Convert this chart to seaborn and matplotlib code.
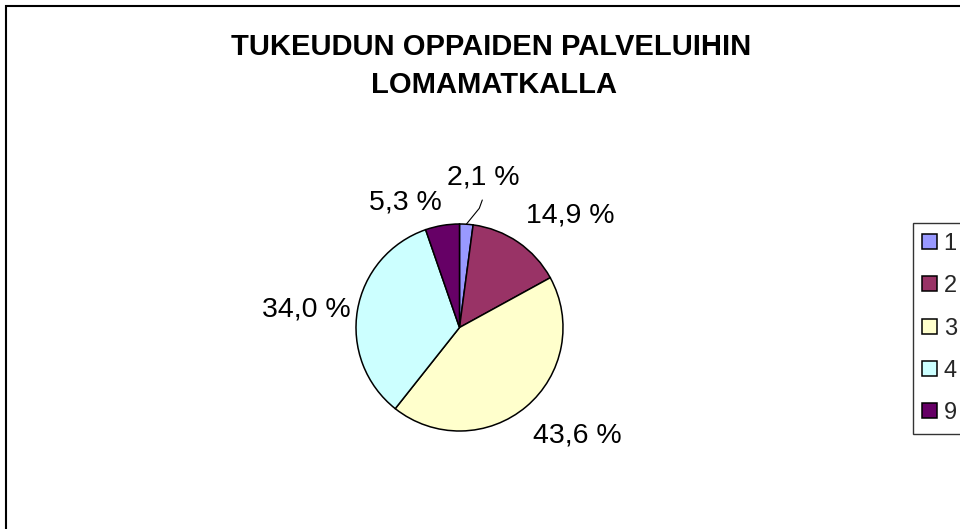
import numpy as np
import matplotlib
matplotlib.use("Agg")
import matplotlib.pyplot as plt
import seaborn as sns

# data
categories = ["1", "2", "3", "4", "9"]
shares = [2.1, 14.9, 43.6, 34.0, 5.3]
pct_labels = ["2,1 %", "14,9 %", "43,6 %", "34,0 %", "5,3 %"]
title_lines = ["TUKEUDUN OPPAIDEN PALVELUIHIN", "LOMAMATKALLA"]

sns.set_theme(style="white")
plt.rcParams["font.family"] = ["Liberation Sans", "DejaVu Sans"]
palette = sns.color_palette(["#9999FF", "#993366", "#FFFFCC", "#CCFFFF", "#660066"])

W, H = 960, 529
fig = plt.figure(figsize=(W / 100, H / 100), dpi=100)
fig.patch.set_facecolor("white")
ax = fig.add_axes([0, 0, 1, 1])

cx, cy, R = 459.5, H - 327.5, 103.5
wedges, _ = ax.pie(shares, colors=palette, startangle=90, counterclock=False,
                   center=(cx, cy), radius=R, frame=True,
                   wedgeprops=dict(edgecolor="black", linewidth=1.1))
ax.set_xlim(0, W)
ax.set_ylim(0, H)
ax.set_aspect("equal")
ax.axis("off")

# chart area border (right and bottom are cut off in the original)
ax.add_patch(plt.Rectangle((6, -20), W + 40, H - 6 + 20, fill=False,
                           edgecolor="black", linewidth=1.5, clip_on=False))

# label placement (distance factor, angle tweak) per slice
label_r = [1.47, 1.52, 1.546, 1.49, 1.32]
label_da = [-5.3, -10.1, 7.5, 2.9, 13.8]
for w, txt, f, da in zip(wedges, pct_labels, label_r, label_da):
    mid = np.deg2rad((w.theta1 + w.theta2) / 2 + da)
    ax.text(cx + f * R * np.cos(mid), cy + f * R * np.sin(mid), txt,
            ha="center", va="center", fontsize=20.5, color="black")

# leader line for the small slice
w0 = wedges[0]
m0 = np.deg2rad((w0.theta1 + w0.theta2) / 2)
x0, y0 = cx + R * np.cos(m0), cy + R * np.sin(m0)
ax.plot([x0, 479.3, 482.3], [y0, H - 208.3, H - 200], color="black", linewidth=0.8)

for line, xc, base in zip(title_lines, [491, 494], [55, 93]):
    ax.text(xc, H - base, line, ha="center", va="baseline",
            fontsize=21, fontweight="bold", color="black")

leg = ax.legend(wedges, categories, loc="upper left",
                bbox_to_anchor=(912.5 / W, 1 - 223 / H), borderaxespad=0,
                fontsize=17, frameon=True, fancybox=False, edgecolor="black",
                handlelength=0.6, handleheight=0.6, handletextpad=0.3,
                labelspacing=0.86, borderpad=0.42)
leg.get_frame().set_linewidth(1.0)

fig.savefig("out.png", dpi=100, facecolor="white")
